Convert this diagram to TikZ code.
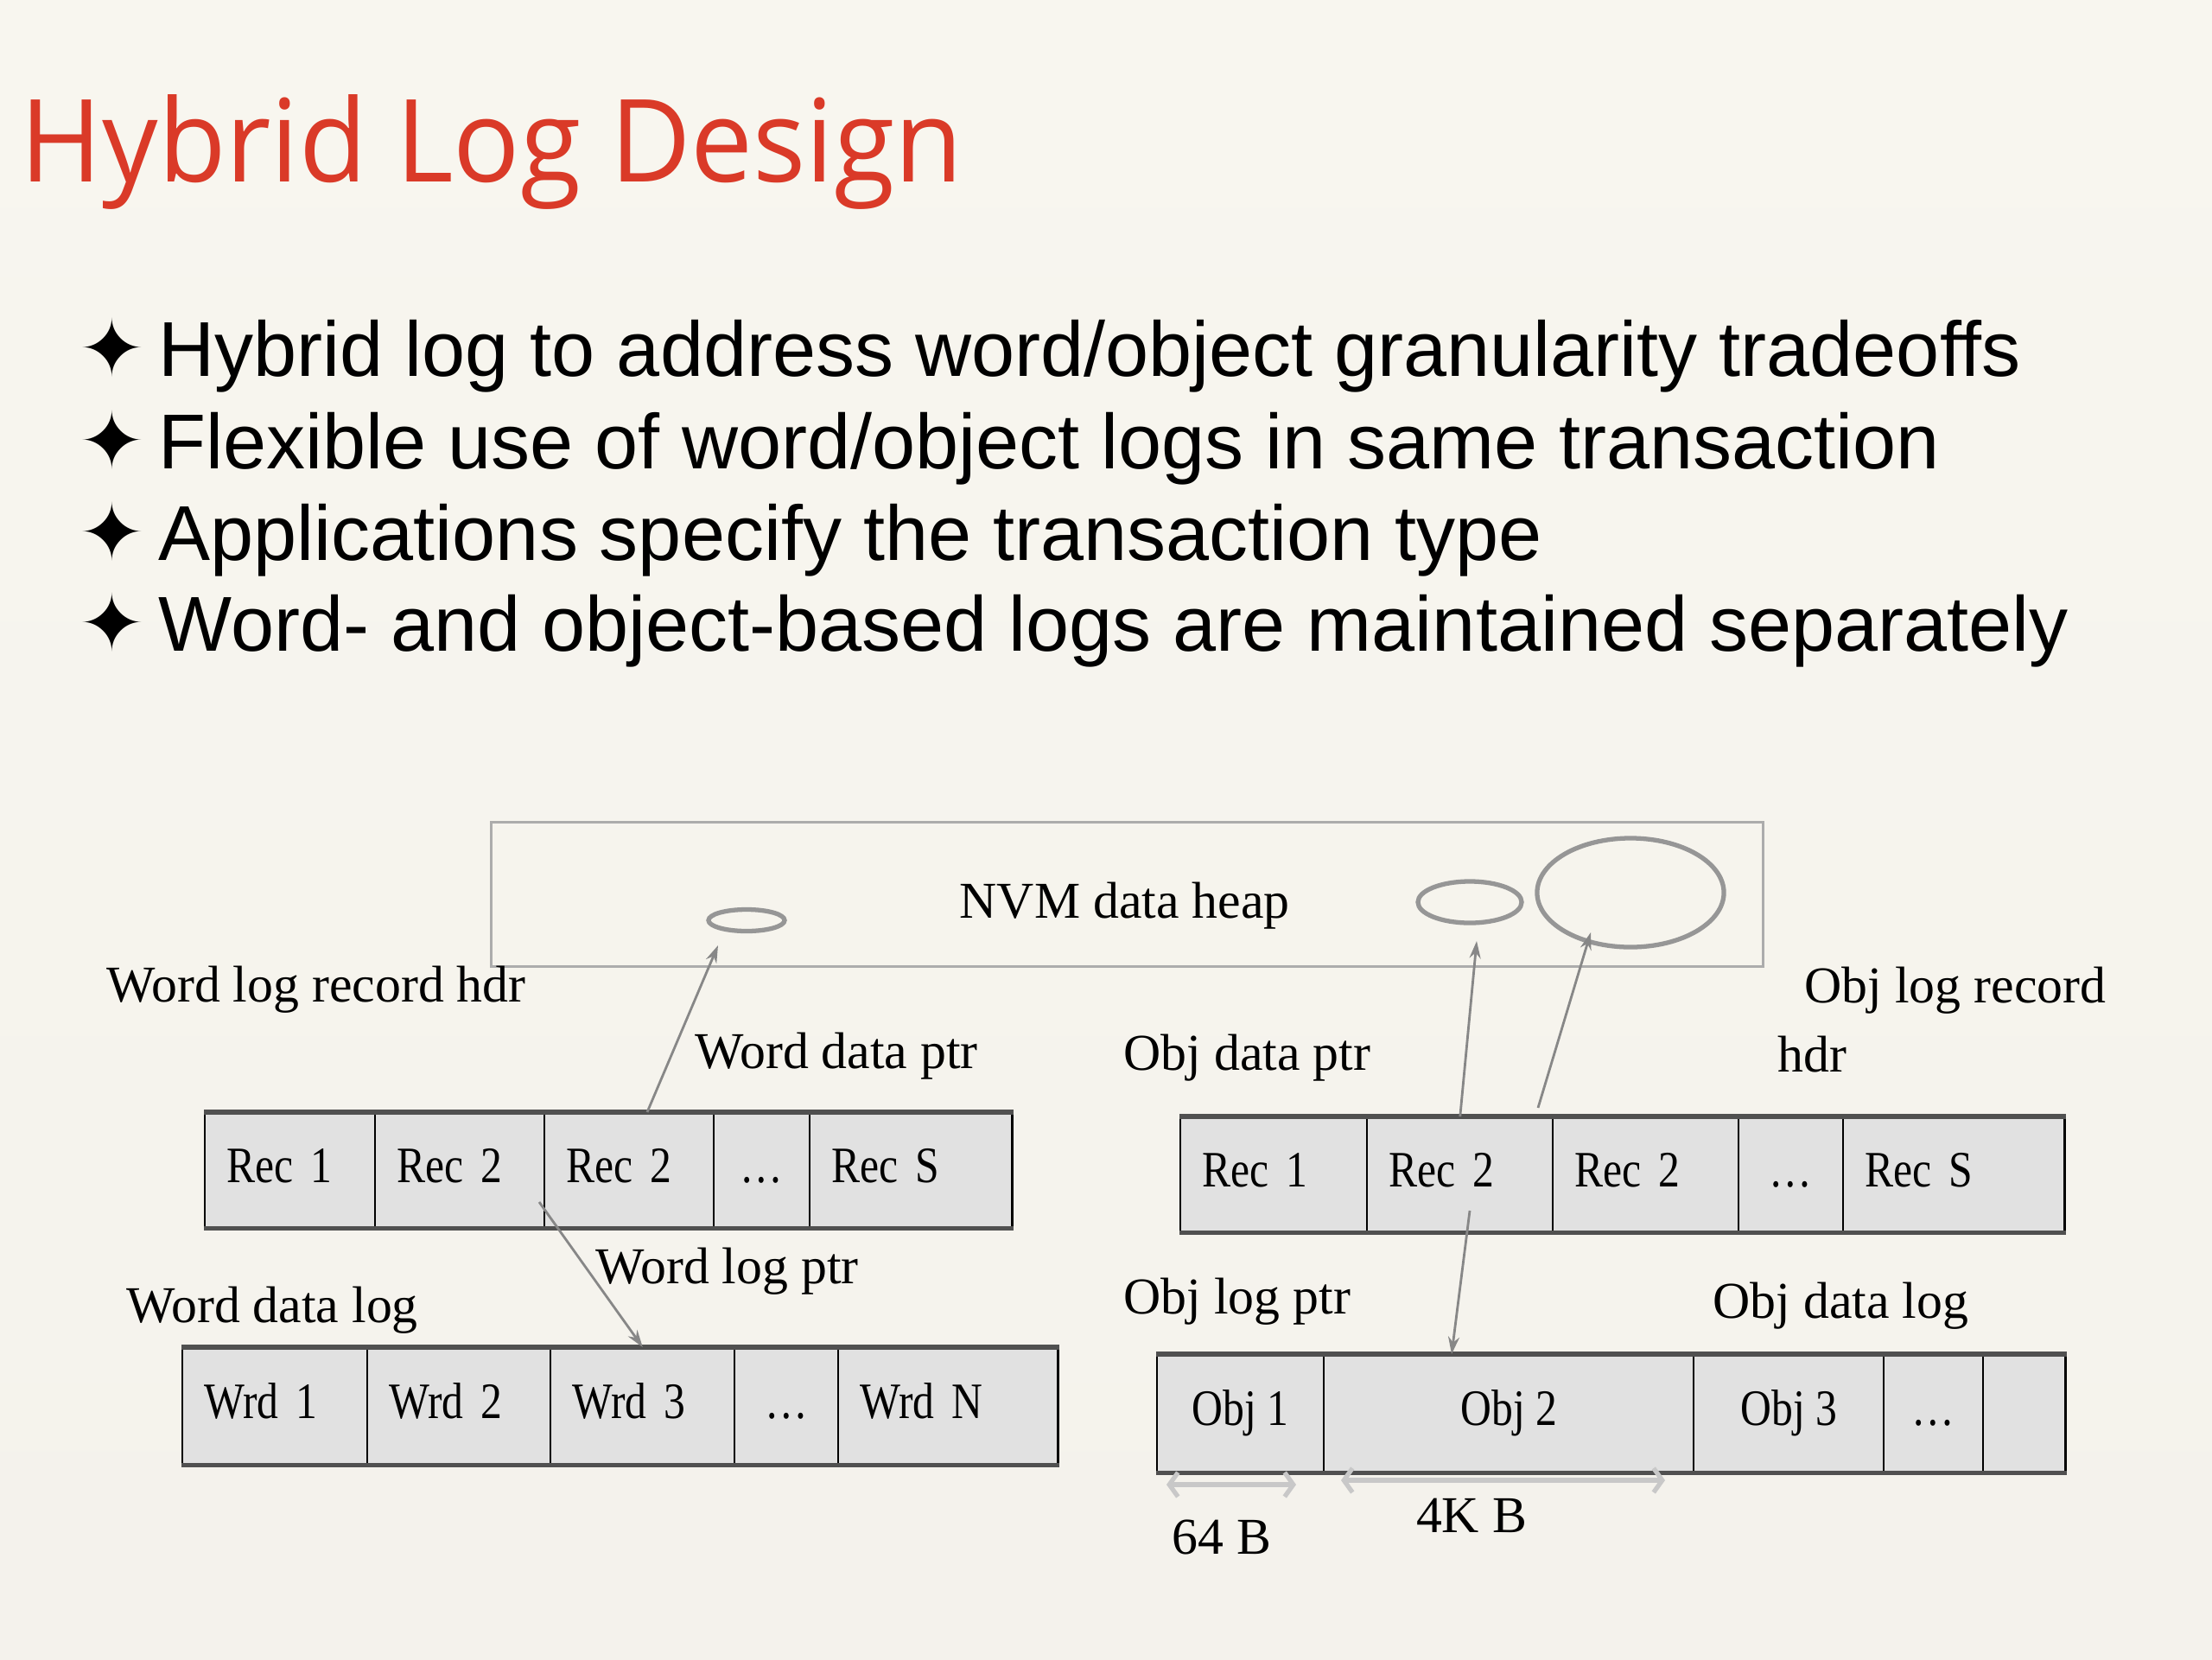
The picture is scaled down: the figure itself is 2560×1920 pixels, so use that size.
\documentclass[tikz,border=0pt]{standalone}
\usepackage{fontspec}
\setmainfont{Liberation Serif}
\newfontfamily\cellf{Liberation Serif}[FakeStretch=0.84]
\newfontfamily\sansf{Liberation Sans}
\newfontfamily\titlef{Open Sans}[FakeStretch=0.965]
\newfontfamily\symf{DejaVu Sans}
\usetikzlibrary{arrows.meta,shapes.geometric}

\definecolor{bgtop}{RGB}{248,246,239}
\definecolor{bgmid}{RGB}{238,237,231}
\definecolor{bgbot}{RGB}{244,242,236}
\definecolor{titlered}{RGB}{218,58,40}
\definecolor{cellgray}{RGB}{225,225,225}
\definecolor{ptrgray}{RGB}{135,135,135}
\definecolor{ringgray}{RGB}{150,150,150}
\definecolor{heapgray}{RGB}{172,172,172}
\definecolor{dimgray}{RGB}{200,200,200}
\definecolor{rulegray}{RGB}{80,80,80}

\newcommand\diagfont{\fontsize{17}{20}\selectfont}
\newcommand\cellfont{\cellf\fontsize{16.8}{20}\selectfont}

\tikzset{
  cellbox/.style={draw=black, line width=0.7pt, fill=cellgray, anchor=north west,
    inner xsep=0.25cm, inner ysep=0pt, font=\cellfont, text height=0.36cm, text depth=0.08cm},
  tablerule/.style={draw=rulegray, line width=1.5pt},
  lbl/.style={anchor=base west, inner sep=0pt, font=\diagfont},
  bullettext/.style={anchor=base west, inner sep=0pt, font=\sansf\fontsize{25.6}{30}\selectfont},
  bulletstar/.style={inner sep=0pt, font=\symf\fontsize{26}{30}\selectfont},
  ptr/.style={draw=ptrgray, line width=0.8pt, -{Stealth[length=0.2cm,width=0.13cm]}},
  ring/.style={ellipse, draw=ringgray, line width=1.5pt, inner sep=0pt},
  dim/.style={draw=dimgray, line width=1.5pt, {Straight Barb[length=0.1cm,width=0.28cm]}-{Straight Barb[length=0.1cm,width=0.28cm]}},
}

\newcommand\cellL[6]{%
  \pgfmathsetmacro\cwd{(#4-#2)/100}\pgfmathsetmacro\chd{(#5-#3)/100}\pgfmathsetmacro\twd{\cwd-0.5}%
  \node[cellbox, text width=\twd cm, minimum height=\chd cm, align=left] (#1) at (#2,#3) {#6};}
\newcommand\cellC[6]{%
  \pgfmathsetmacro\cwd{(#4-#2)/100}\pgfmathsetmacro\chd{(#5-#3)/100}%
  \node[cellbox, inner xsep=0pt, minimum width=\cwd cm, minimum height=\chd cm] (#1) at (#2,#3) {#6};}

\begin{document}
\begin{tikzpicture}[x=0.01cm, y=-0.01cm]
\useasboundingbox (0,0) rectangle (2560,1920);
\shade[top color=bgtop, middle color=bgmid, bottom color=bgbot] (0,0) rectangle (2560,1920);

% title
\node[anchor=base west, inner sep=0pt, font=\titlef\fontsize{37.8}{40}\selectfont, text=titlered] (title) at (23,210) {Hybrid Log Design};

% bullets
\node[bulletstar] (s1) at (130,402) {✦};
\node[bulletstar] (s2) at (130,509) {✦};
\node[bulletstar] (s3) at (130,615) {✦};
\node[bulletstar] (s4) at (130,720) {✦};
\node[bullettext] (l1) at (183,435) {Hybrid log to address word/object granularity tradeoffs};
\node[bullettext] (l2) at (183,542) {Flexible use of word/object logs in same transaction};
\node[bullettext] (l3) at (183,648) {Applications specify the transaction type};
\node[bullettext] (l4) at (183,753) {Word- and object-based logs are maintained separately};

% NVM heap
\node[draw=heapgray, line width=0.9pt, minimum width=14.71cm, minimum height=1.67cm, anchor=north west, inner sep=0pt] (heap) at (567,950) {};
\node[lbl] (heaplbl) at (1110,1062) {NVM data heap};
\node[ring, minimum width=0.88cm, minimum height=0.25cm] (e1) at (864,1065) {};
\node[ring, minimum width=1.2cm, minimum height=0.48cm] (e2) at (1701,1044) {};
\node[ring, minimum width=2.16cm, minimum height=1.26cm] (e3) at (1887,1033) {};

% labels
\node[lbl] (wlrh) at (123,1159) {Word log record hdr};
\node[lbl] (wdpl) at (804,1236) {Word data ptr};
\node[lbl] (wlpl) at (689,1485) {Word log ptr};
\node[lbl] (wdll) at (146,1530) {Word data log};
\node[lbl] (olr1) at (2088,1160) {Obj log record};
\node[lbl] (olr2) at (2057,1240) {hdr};
\node[lbl] (odpl) at (1300,1238) {Obj data ptr};
\node[lbl] (olpl) at (1300,1520) {Obj log ptr};
\node[lbl] (odll) at (1982,1525) {Obj data log};

% word log record table
\cellL{wr1}{236}{1287}{433}{1419}{Rec 1}
\cellL{wr2}{433}{1287}{629}{1419}{Rec 2}
\cellL{wr3}{629}{1287}{825}{1419}{Rec 2}
\cellC{wr4}{825}{1287}{936}{1419}{…}
\cellL{wr5}{936}{1287}{1170}{1419}{Rec S}
\draw[tablerule] (wr1.north west) -- (wr5.north east) (wr1.south west) -- (wr5.south east);

% word data log table
\cellL{wd1}{210}{1559}{424}{1693}{Wrd 1}
\cellL{wd2}{424}{1559}{636}{1693}{Wrd 2}
\cellL{wd3}{636}{1559}{849}{1693}{Wrd 3}
\cellC{wd4}{849}{1559}{969}{1693}{…}
\cellL{wd5}{969}{1559}{1223}{1693}{Wrd N}
\draw[tablerule] (wd1.north west) -- (wd5.north east) (wd1.south west) -- (wd5.south east);

% obj log record table
\cellL{or1}{1365}{1292}{1581}{1424}{Rec 1}
\cellL{or2}{1581}{1292}{1796}{1424}{Rec 2}
\cellL{or3}{1796}{1292}{2011}{1424}{Rec 2}
\cellC{or4}{2011}{1292}{2132}{1424}{…}
\cellL{or5}{2132}{1292}{2388}{1424}{Rec S}
\draw[tablerule] (or1.north west) -- (or5.north east) (or1.south west) -- (or5.south east);

% obj data log table
\cellC{od1}{1338}{1567}{1531}{1702}{Obj 1}
\cellC{od2}{1531}{1567}{1959}{1702}{Obj 2}
\cellC{od3}{1959}{1567}{2179}{1702}{Obj 3}
\cellC{od4}{2179}{1567}{2294}{1702}{…}
\cellC{od5}{2294}{1567}{2389}{1702}{}
\draw[tablerule] (od1.north west) -- (od5.north east) (od1.south west) -- (od5.south east);

% pointers
\coordinate (wdpS) at (749,1287);
\coordinate (wdpE) at (831,1094);
\draw[ptr] (wdpS) -- (wdpE);
\coordinate (wlpS) at (624,1391);
\draw[ptr] (wlpS) -- (wd3.north);
\coordinate (odp1E) at (1709,1089);
\draw[ptr] (or2.north) -- (odp1E);
\coordinate (odp2S) at (1780,1282);
\coordinate (odp2E) at (1841,1079);
\draw[ptr] (odp2S) -- (odp2E);
\coordinate (olpS) at (1701,1401);
\coordinate (olpE) at (1680,1567);
\draw[ptr] (olpS) -- (olpE);

% size arrows
\coordinate (d1a) at (1350,1718);
\coordinate (d1b) at (1500,1718);
\coordinate (d2a) at (1552,1713);
\coordinate (d2b) at (1927,1713);
\draw[dim] (d1a) -- (d1b);
\draw[dim] (d2a) -- (d2b);
\node[anchor=base, inner sep=0pt, font=\diagfont] (sz64) at (1414,1798) {64 B};
\node[anchor=base, inner sep=0pt, font=\diagfont] (sz4k) at (1703,1773) {4K B};
\end{tikzpicture}
\end{document}
